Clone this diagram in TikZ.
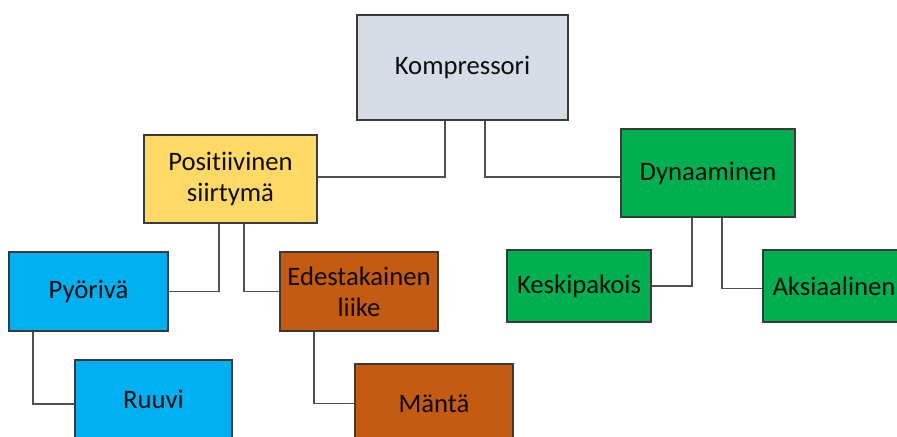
\documentclass[tikz,border=0pt]{standalone}
\usepackage{fontspec}
\setmainfont{Carlito}[Ligatures={NoCommon}, RawFeature={-liga;-clig}]
\usepackage{tikz}
\definecolor{kompgray}{HTML}{D6DCE5}
\definecolor{posyellow}{HTML}{FFD966}
\definecolor{dyngreen}{HTML}{00B050}
\definecolor{pyorblue}{HTML}{00B0F0}
\definecolor{edesorange}{HTML}{C55A11}
\definecolor{edgegray}{HTML}{3A3A3A}
\definecolor{linkgray}{HTML}{505050}
\tikzset{
	box/.style={draw=edgegray, line width=0.8pt, align=center, text=black!95,
		font=\fontsize{20}{23}\selectfont, inner sep=0pt},
	link/.style={draw=linkgray, line width=0.9pt}
}

\begin{document}
\begin{tikzpicture}[x=0.75pt, y=-0.75pt]
		\useasboundingbox (0,0) rectangle (897,436);
		\clip (0,0) rectangle (897,436);
		\node[box, fill=kompgray, minimum width=158.25pt, minimum height=78.75pt] (komp) at (462.5,67.5) {Kompressori};
		\node[box, fill=posyellow, minimum width=129.75pt, minimum height=66pt] (posit) at (230.5,179) {Positiivinen\\siirtymä};
		\node[box, fill=dyngreen, minimum width=130.5pt, minimum height=66pt] (dyn) at (708,173) {Dynaaminen};
		\node[box, fill=pyorblue, minimum width=119.25pt, minimum height=59.25pt] (pyor) at (88.5,291.5) {Pyörivä};
		\node[box, fill=edesorange, minimum width=118.5pt, minimum height=59.25pt] (edes) at (359,291.5) {Edestakainen\\liike};
		\node[box, fill=dyngreen, minimum width=108pt, minimum height=54pt] (kesk) at (579,286) {Keskipakois};
		\node[box, fill=dyngreen, minimum width=106.5pt, minimum height=54pt] (aksi) at (834,286) {Aksiaalinen};
		\node[box, fill=pyorblue, minimum width=117.75pt, minimum height=59.25pt] (ruuvi) at (153.5,399.5) {Ruuvi};
		\node[box, fill=edesorange, minimum width=118.5pt, minimum height=59.25pt] (manta) at (434,403.5) {Mäntä};
		% elbow connectors
		\draw[link] (komp.south) ++(-17.5,0) |- ([yshift=1.5pt]posit.east);
		\draw[link] (komp.south) ++(22.5,0) |- ([yshift=-3pt]dyn.west);
		\draw[link] (posit.south) ++(-11.5,0) |- (pyor.east);
		\draw[link] (posit.south) ++(13.5,0) |- (edes.west);
		\draw[link] (dyn.south) ++(-16,0) |- (kesk.east);
		\draw[link] (dyn.south) ++(14,0) |- ([yshift=-2pt]aksi.west);
		\draw[link] (pyor.south) ++(-55.5,0) |- ([yshift=-3.4pt]ruuvi.west);
		\draw[link] (edes.south) ++(-45,0) |- (manta.west);
	\end{tikzpicture}
\end{document}
